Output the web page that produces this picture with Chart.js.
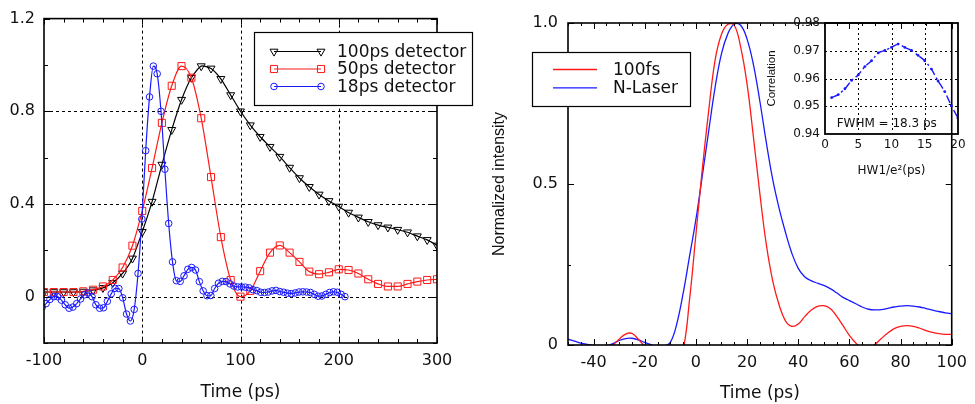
<!DOCTYPE html>
<html><head><meta charset="utf-8">
<script src="https://cdn.jsdelivr.net/npm/chart.js@4/dist/chart.umd.min.js"></script>
<style>
html,body{margin:0;padding:0;background:#fff;width:975px;height:404px;overflow:hidden;}
canvas{position:absolute;top:0;}
#c1{left:0;} #c2{left:470px;} #c3{left:760px;}
</style></head><body>
<canvas id="c1" width="490" height="404"></canvas>
<canvas id="c2" width="505" height="404"></canvas>
<canvas id="c3" width="215" height="185"></canvas>
<script>
// ---------- LEFT PANEL DATA ----------
const leftTime = [-100,-90,-80,-70,-60,-50,-40,-30,-20,-10,0,10,20,30,40,50,60,70,80,90,100,110,120,130,140,150,160,170,180,190,200,210,220,230,240,250,260,270,280,290,300];
const det100 = [0.02,0.02,0.02,0.02,0.022,0.028,0.038,0.06,0.10,0.165,0.28,0.41,0.57,0.72,0.85,0.945,0.995,0.985,0.94,0.87,0.80,0.74,0.69,0.647,0.604,0.557,0.512,0.474,0.441,0.413,0.389,0.363,0.342,0.323,0.309,0.299,0.289,0.278,0.261,0.245,0.221];
const det50 = [0.02,0.02,0.02,0.02,0.023,0.03,0.044,0.072,0.126,0.22,0.37,0.555,0.75,0.91,0.995,0.945,0.77,0.516,0.257,0.072,0.0,0.025,0.11,0.19,0.221,0.19,0.15,0.108,0.097,0.105,0.118,0.115,0.10,0.075,0.055,0.044,0.044,0.055,0.065,0.072,0.075];
const blueTime = [-101.8,-97.9,-94,-90.1,-86.2,-82.3,-78.4,-74.5,-70.6,-66.7,-62.8,-58.9,-55,-51.1,-47.2,-43.3,-39.4,-35.5,-31.6,-27.7,-23.8,-19.9,-16,-12.1,-8.2,-4.3,-0.4,3.5,7.4,11.3,15.2,19.1,23,26.9,30.8,34.7,38.6,42.5,46.4,50.3,54.2,58.1,62,65.9,69.8,73.7,77.6,81.5,85.4,89.3,93.2,97.1,101,104.9,108.8,112.7,116.6,120.5,124.4,128.3,132.2,136.1,140,143.9,147.8,151.7,155.6,159.5,163.4,167.3,171.2,175.1,179,182.9,186.8,190.7,194.6,198.5,202.4,206.3];
const det18 = [-0.045,-0.03,-0.012,0.0,0.0,-0.015,-0.035,-0.05,-0.045,-0.03,
  -0.01,0.008,0.016,0.0,-0.035,-0.05,-0.048,-0.02,0.012,0.036,
  0.035,-0.005,-0.075,-0.105,-0.055,0.10,0.335,0.63,0.862,0.995,
  0.962,0.80,0.55,0.316,0.15,0.069,0.066,0.09,0.118,0.126,
  0.115,0.065,0.025,0.004,0.005,0.035,0.058,0.066,0.065,0.055,
  0.046,0.042,0.042,0.041,0.038,0.03,0.026,0.019,0.018,0.02,
  0.025,0.027,0.022,0.019,0.015,0.013,0.016,0.02,0.021,0.02,
  0.018,0.01,0.002,0.003,0.01,0.018,0.021,0.019,0.01,0.0];
const leftSeriesNames = ['100ps detector','50ps detector','18ps detector'];
const leftXTicks = [-100,0,100,200,300];
const leftYTicks = [0,0.4,0.8,1.2];
const leftYTickLabels = ['0','0.4','0.8','1.2'];
const leftXMinor = [-80,-60,-40,-20,20,40,60,80,120,140,160,180,220,240,260,280];
const leftYMinor = [-0.2,0.2,0.6,1.0];

// ---------- RIGHT PANEL DATA ----------
const rightTime = [-50,-47.5,-45,-42.5,-40,-37.5,-35,-32.5,-30,-27.5,-25,-22.5,-20,-17.5,-15,-12.5,-10,-7.5,-5,-2.5,0,2.5,5,7.5,10,12.5,15,17.5,20,22.5,25,27.5,30,32.5,35,37.5,40,42.5,45,47.5,50,52.5,55,57.5,60,62.5,65,67.5,70,72.5,75,77.5,80,82.5,85,87.5,90,92.5,95,97.5,100];
const fs100 = [-0.04,-0.05,-0.05,-0.04,-0.03,-0.02,-0.008,0.0,0.018,0.034,0.036,0.018,-0.005,-0.03,-0.05,-0.06,-0.06,-0.045,-0.015,0.14,0.343,0.546,0.728,0.885,0.965,0.996,0.993,0.925,0.81,0.645,0.47,0.313,0.2,0.125,0.075,0.058,0.065,0.088,0.108,0.12,0.122,0.113,0.09,0.06,0.03,0.006,-0.01,-0.012,0.002,0.02,0.037,0.051,0.058,0.06,0.058,0.052,0.045,0.039,0.035,0.033,0.033];
const nLaser = [0.018,0.012,0.006,0.002,-0.001,-0.005,-0.003,0.004,0.014,0.02,0.021,0.016,0.008,0.001,-0.006,-0.004,0.008,0.065,0.16,0.275,0.39,0.525,0.665,0.80,0.905,0.967,0.997,0.993,0.95,0.87,0.757,0.63,0.515,0.425,0.35,0.285,0.238,0.212,0.2,0.192,0.185,0.175,0.162,0.148,0.138,0.128,0.118,0.111,0.109,0.11,0.114,0.118,0.121,0.122,0.121,0.118,0.113,0.108,0.104,0.1,0.097];
const rightSeriesNames = ['100fs','N-Laser'];
const rightXTicks = [-40,-20,0,20,40,60,80,100];
const rightYTicks = [0,0.5,1.0];
const rightYTickLabels = ['0','0.5','1.0'];
const rightXMinor = [-50,-45,-35,-30,-25,-15,-10,-5,5,10,15,25,30,35,45,50,55,65,70,75,85,90,95];
const rightYMinor = [0.25,0.75];

// ---------- INSET DATA ----------
const hw = [1,2,3,4,5,6,7,8,9,10,11,12,13,14,15,16,17,18,19,20];
const correlation = [0.9531,0.9542,0.9563,0.9593,0.9613,0.9643,0.9664,0.9692,0.9701,0.9712,0.9724,0.9712,0.9701,0.9683,0.9664,0.9634,0.9591,0.9553,0.9502,0.9457];
const insetXTicks = [0,5,10,15,20];
const insetYTicks = [0.94,0.95,0.96,0.97,0.98];
const insetYTickLabels = ['0.94','0.95','0.96','0.97','0.98'];
const insetGridX = [5,10,15];
const insetGridY = [0.95,0.96,0.97];
const fwhmText = 'FWHM = 18.3 ps';

// ---------- helpers ----------
const TXT = 'DejaVu Sans';
function pts(xs, ys){ return xs.map((x,i)=>({x:x, y:ys[i]})); }
function makeFrame(cfg){
  return {
    id:'frame',
    beforeDatasetsDraw(chart){
      const ctx=chart.ctx, a=chart.chartArea, xs=chart.scales.x, ys=chart.scales.y;
      ctx.save(); ctx.strokeStyle='#000'; ctx.lineWidth=1; ctx.setLineDash(cfg.gridDash);
      (cfg.xGrid||[]).forEach(v=>{const p=Math.round(xs.getPixelForValue(v))+0.5; ctx.beginPath(); ctx.moveTo(p,a.top); ctx.lineTo(p,a.bottom); ctx.stroke();});
      (cfg.yGrid||[]).forEach(v=>{const p=Math.round(ys.getPixelForValue(v))+0.5; ctx.beginPath(); ctx.moveTo(a.left,p); ctx.lineTo(a.right,p); ctx.stroke();});
      ctx.restore();
    },
    afterDatasetsDraw(chart){
      const ctx=chart.ctx, a=chart.chartArea, xs=chart.scales.x, ys=chart.scales.y;
      ctx.save(); ctx.strokeStyle='#000'; ctx.setLineDash([]); ctx.lineWidth=1;
      const dx=(vals,len)=>vals.forEach(v=>{const p=Math.round(xs.getPixelForValue(v))+0.5; ctx.beginPath(); ctx.moveTo(p,a.bottom); ctx.lineTo(p,a.bottom-len); ctx.moveTo(p,a.top); ctx.lineTo(p,a.top+len); ctx.stroke();});
      const dy=(vals,len)=>vals.forEach(v=>{const p=Math.round(ys.getPixelForValue(v))+0.5; ctx.beginPath(); ctx.moveTo(a.left,p); ctx.lineTo(a.left+len,p); ctx.moveTo(a.right,p); ctx.lineTo(a.right-len,p); ctx.stroke();});
      dx(cfg.xMajor||[],cfg.majorLen); dx(cfg.xMinor||[],cfg.minorLen);
      dy(cfg.yMajor||[],cfg.majorLen); dy(cfg.yMinor||[],cfg.minorLen);
      ctx.lineWidth=cfg.frameWidth;
      ctx.strokeRect(a.left,a.top,a.right-a.left,a.bottom-a.top);
      ctx.restore();
    }
  };
}
function marker(ctx, style, x, y, r){
  ctx.beginPath();
  if(style==='triangle'){ // pointing down
    ctx.moveTo(x, y+r); ctx.lineTo(x-r*0.866, y-r*0.5); ctx.lineTo(x+r*0.866, y-r*0.5); ctx.closePath();
  } else if(style==='rect'){
    const s=r*0.707; ctx.rect(x-s,y-s,2*s,2*s);
  } else { ctx.arc(x,y,r,0,Math.PI*2); }
  ctx.stroke();
}
function axisFont(sz, fam){ return {family: fam||TXT, size: sz}; }

// ---------- LEFT CHART ----------
const leftStyles = [
  {color:'#000000', style:'triangle', r:4.6},
  {color:'#ff1a1a', style:'rect', r:5},
  {color:'#1a1aff', style:'circle', r:3.3}
];
const leftLegend = {
  id:'leftLegend',
  afterDraw(chart){
    const ctx=chart.ctx;
    ctx.save();
    ctx.fillStyle='#fff'; ctx.fillRect(254.5,32.5,218,73);
    ctx.strokeStyle='#000'; ctx.lineWidth=1.2; ctx.strokeRect(254.5,32.5,218,73);
    ctx.font='17px "'+TXT+'"'; ctx.textBaseline='middle'; ctx.textAlign='left';
    leftSeriesNames.forEach((name,i)=>{
      const y=51.5+17.5*i, s=leftStyles[i];
      ctx.strokeStyle=s.color; ctx.lineWidth=1.2;
      ctx.beginPath(); ctx.moveTo(274,y); ctx.lineTo(321,y); ctx.stroke();
      ctx.lineWidth=1; marker(ctx,s.style,274,y,s.r); marker(ctx,s.style,321,y,s.r);
      ctx.fillStyle='#111'; ctx.fillText(name,337,y+1);
    });
    ctx.restore();
  }
};
new Chart(document.getElementById('c1'), {
  type:'line',
  data:{datasets:[
    {label:leftSeriesNames[0], data:pts(leftTime,det100), borderColor:leftStyles[0].color, borderWidth:1.2,
     pointStyle:'triangle', pointRotation:180, pointRadius:4.6, pointBorderWidth:1, pointBorderColor:'#000', pointBackgroundColor:'rgba(0,0,0,0)', tension:0.2, order:2},
    {label:leftSeriesNames[1], data:pts(leftTime,det50), borderColor:leftStyles[1].color, borderWidth:1.2,
     pointStyle:'rect', pointRadius:5, pointBorderWidth:1, pointBorderColor:leftStyles[1].color, pointBackgroundColor:'rgba(0,0,0,0)', cubicInterpolationMode:'monotone', order:1},
    {label:leftSeriesNames[2], data:pts(blueTime,det18), borderColor:leftStyles[2].color, borderWidth:1.2,
     pointStyle:'circle', pointRadius:3.3, pointBorderWidth:1, pointBorderColor:leftStyles[2].color, pointBackgroundColor:'rgba(0,0,0,0)', cubicInterpolationMode:'monotone', order:0}
  ]},
  options:{
    responsive:false, animation:false, devicePixelRatio:1,
    layout:{padding:{left:0,right:53,top:16,bottom:0}},
    plugins:{legend:{display:false}, tooltip:{enabled:false}},
    scales:{
      x:{type:'linear', min:-100, max:300,
        afterBuildTicks:s=>{s.ticks=leftXTicks.map(v=>({value:v}));},
        afterFit:s=>{s.height=61;},
        grid:{display:false, drawTicks:false}, border:{display:false},
        ticks:{padding:8, font:axisFont(16), color:'#111', maxRotation:0, autoSkip:false, callback:v=>String(v)},
        title:{display:true, text:'Time (ps)', font:axisFont(17), color:'#111', padding:{top:0,bottom:1}}},
      y:{type:'linear', min:-0.2, max:1.2,
        afterBuildTicks:s=>{s.ticks=leftYTicks.map(v=>({value:v}));},
        afterFit:s=>{s.width=44;},
        grid:{display:false, drawTicks:false}, border:{display:false},
        ticks:{padding:9, font:axisFont(16), color:'#111', autoSkip:false, callback:(v,i)=>leftYTickLabels[i]}}
    }
  },
  plugins:[makeFrame({gridDash:[3,3], xGrid:[0,100,200], yGrid:[0,0.4,0.8], xMajor:leftXTicks, xMinor:leftXMinor, yMajor:leftYTicks, yMinor:leftYMinor, majorLen:6, minorLen:4, frameWidth:1.6}), leftLegend]
});

// ---------- RIGHT CHART ----------
const rightColors = ['#ff1a1a','#1a1aff'];
const rightLegend = {
  id:'rightLegend',
  afterDraw(chart){
    const ctx=chart.ctx, ox=470;
    ctx.save();
    ctx.fillStyle='#fff'; ctx.fillRect(532.5-ox,52.5,158,54);
    ctx.strokeStyle='#000'; ctx.lineWidth=1.2; ctx.strokeRect(532.5-ox,52.5,158,54);
    ctx.font='17px "'+TXT+'"'; ctx.textBaseline='middle'; ctx.textAlign='left';
    rightSeriesNames.forEach((name,i)=>{
      const y=69.5+18.3*i;
      ctx.strokeStyle=rightColors[i]; ctx.lineWidth=1.3;
      ctx.beginPath(); ctx.moveTo(553-ox,y); ctx.lineTo(597-ox,y); ctx.stroke();
      ctx.fillStyle='#111'; ctx.fillText(name,613-ox,y+1);
    });
    ctx.restore();
  }
};
new Chart(document.getElementById('c2'), {
  type:'line',
  data:{datasets:[
    {label:rightSeriesNames[0], data:pts(rightTime,fs100), borderColor:rightColors[0], borderWidth:1.3, pointRadius:0, tension:0.4},
    {label:rightSeriesNames[1], data:pts(rightTime,nLaser), borderColor:rightColors[1], borderWidth:1.3, pointRadius:0, tension:0.4}
  ]},
  options:{
    responsive:false, animation:false, devicePixelRatio:1,
    layout:{padding:{left:0,right:15,top:23,bottom:0}},
    plugins:{legend:{display:false}, tooltip:{enabled:false}},
    scales:{
      x:{type:'linear', min:-50, max:100,
        afterBuildTicks:s=>{s.ticks=rightXTicks.map(v=>({value:v}));},
        afterFit:s=>{s.height=59;},
        grid:{display:false, drawTicks:false}, border:{display:false},
        ticks:{padding:8, font:axisFont(16), color:'#111', maxRotation:0, autoSkip:false, callback:v=>String(v)},
        title:{display:true, text:'Time (ps)', font:axisFont(17), color:'#111', padding:{top:0,bottom:0}}},
      y:{type:'linear', min:0, max:1,
        afterBuildTicks:s=>{s.ticks=rightYTicks.map(v=>({value:v}));},
        afterFit:s=>{s.width=98;},
        grid:{display:false, drawTicks:false}, border:{display:false},
        ticks:{padding:10, font:axisFont(16), color:'#111', autoSkip:false, callback:(v,i)=>rightYTickLabels[i]},
        title:{display:true, text:'Normalized intensity', font:axisFont(16,'Liberation Sans'), color:'#111', padding:{top:19.5,bottom:0}}}
    }
  },
  plugins:[makeFrame({gridDash:[3,3], xMajor:rightXTicks, xMinor:rightXMinor, yMajor:rightYTicks, yMinor:rightYMinor, majorLen:6, minorLen:3, frameWidth:1.6}), rightLegend]
});

// ---------- INSET ----------
const insetText = {
  id:'insetText',
  afterDraw(chart){
    const ctx=chart.ctx, xs=chart.scales.x, ys=chart.scales.y;
    ctx.save(); ctx.font='12px "'+TXT+'"'; ctx.fillStyle='#111'; ctx.textBaseline='middle'; ctx.textAlign='left';
    ctx.fillText(fwhmText, xs.getPixelForValue(1.75), ys.getPixelForValue(0.9436));
    ctx.restore();
  }
};
new Chart(document.getElementById('c3'), {
  type:'line',
  data:{datasets:[
    {label:'Correlation', data:pts(hw,correlation), borderColor:'#1a1aff', borderWidth:1.4, borderDash:[8,3,2,3],
     pointStyle:'circle', pointRadius:1.4, pointBorderWidth:0, pointBackgroundColor:'#1a1aff', tension:0.2}
  ]},
  options:{
    responsive:false, animation:false, devicePixelRatio:1,
    layout:{padding:{left:0,right:17,top:23,bottom:0}},
    plugins:{legend:{display:false}, tooltip:{enabled:false}},
    scales:{
      x:{type:'linear', min:0, max:20,
        afterBuildTicks:s=>{s.ticks=insetXTicks.map(v=>({value:v}));},
        afterFit:s=>{s.height=51;},
        grid:{display:false, drawTicks:false}, border:{display:false},
        ticks:{padding:4, font:axisFont(12), color:'#111', maxRotation:0, autoSkip:false, callback:v=>String(v)},
        title:{display:true, text:'HW1/e\u00B2(ps)', font:axisFont(12), color:'#111', padding:{top:0,bottom:7}}},
      y:{type:'linear', min:0.94, max:0.98,
        afterBuildTicks:s=>{s.ticks=insetYTicks.map(v=>({value:v}));},
        afterFit:s=>{s.width=65;},
        grid:{display:false, drawTicks:false}, border:{display:false},
        ticks:{padding:5, font:axisFont(12), color:'#111', autoSkip:false, callback:(v,i)=>insetYTickLabels[i]},
        title:{display:true, text:'Correlation', font:axisFont(11.5,'Liberation Sans'), color:'#111', padding:{top:4.8,bottom:0}}}
    }
  },
  plugins:[makeFrame({gridDash:[2,3], xGrid:insetGridX, yGrid:insetGridY, majorLen:0, minorLen:0, frameWidth:1.8}), insetText]
});
</script>
</body></html>
